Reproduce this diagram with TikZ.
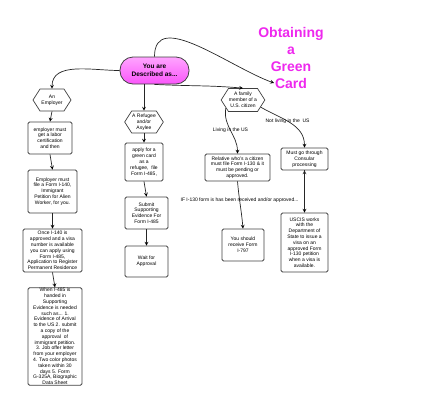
\documentclass[tikz,border=0pt]{standalone}
\usepackage{fontspec}
\setmainfont{Liberation Sans}
\usetikzlibrary{arrows,shapes.symbols}
\definecolor{pilltop}{RGB}{255,165,255}
\definecolor{pillbottom}{RGB}{250,85,250}
\definecolor{titlepink}{RGB}{238,40,238}

\begin{document}
\begin{tikzpicture}
  [x=1pt,y=-1pt,every node/.style={align=center,inner sep=0.5pt,font=\fontsize{5}{5.8}\selectfont}]

  \tikzstyle{box}  = [draw=black!75,line width=0.8pt,rounded corners=1.5pt]
  \tikzstyle{hexa} = [draw=black!75,line width=0.7pt,signal,signal to=west and east,
                      signal pointer angle=115,minimum width=38pt,minimum height=22pt]
  \tikzstyle{pill} = [draw=black!75,line width=0.8pt,top color=pilltop,bottom color=pillbottom,
                      rounded corners=13pt,minimum width=69pt,minimum height=27pt,
                      font=\fontsize{6.5}{8.5}\selectfont\bfseries]

  \useasboundingbox (0,0) rectangle (424,408);

  \node[pill] (pill) at (154.5,70.5) {You are\\Described as...};
  \node[text=titlepink,font=\fontsize{14}{16.7}\selectfont\bfseries] (title) at (291,58)
       {Obtaining\\a\\Green\\Card};
  \coordinate (cardpt) at (274,83);

  \node[hexa]                   (emphex) at (52,100)  {An\\Employer};
  \node[hexa]                   (refhex) at (144,122) {A Refugee\\and/or\\Asylee};
  \node[hexa,minimum width=42pt,minimum height=23pt]
                                (famhex) at (243,100) {A family\\member of a\\U.S. citizen};

  \node[box,minimum width=44pt,minimum height=32pt] (empa) at (50,138)
       {employer must\\get a labor\\certification\\and then};
  \node[box,minimum width=49pt,minimum height=43pt] (empb) at (52.5,191.5)
       {Employer must\\file a Form I-140,\\Immigrant\\Petition for Alien\\Worker, for you.};
  \node[box,minimum width=59pt,minimum height=43pt] (empc) at (52.5,250.5)
       {Once I-140 is\\approved and a visa\\number is available\\you can apply using\\Form I-485,\\Application to Register\\Permanent Residence};
  \node[box,minimum width=54pt,minimum height=97pt] (empd) at (55,336.5)
       {When I-485 is\\handed in\\Supporting\\Evidence is needed\\such as... 1.\\Evidence of Arrival\\to the US 2. submit\\a copy of the\\approval~ of\\immigrant petition.\\3. Job offer letter\\from your employer\\4. Two color photos\\taken within 30\\days 5. Form\\G-325A, Biographic\\Data Sheet};

  \node[box,minimum width=38pt,minimum height=38pt] (refa) at (144,162)
       {apply for a\\green card\\as a\\refugee,~ file\\Form I-485,};
  \node[box,minimum width=43pt,minimum height=32pt] (refb) at (146.5,213)
       {Submit\\Supporting\\Evidence For\\Form I-485};
  \node[box,minimum width=43pt,minimum height=31pt] (refc) at (146.5,261.5)
       {Wait for\\Approval};

  \node[box,minimum width=65pt,minimum height=27pt] (rel) at (237.5,167.5)
       {Relative who's a citizen\\must file Form I-130 \& it\\must be pending or\\approved.};
  \node[box,minimum width=47pt,minimum height=22pt] (cons) at (304.5,159)
       {Must go through\\Consular\\processing};
  \node[box,minimum width=42pt,minimum height=32pt] (recv) at (243,245)
       {You should\\receive Form\\I-797};
  \node[box,minimum width=47pt,minimum height=59pt] (uscis) at (304.5,242.5)
       {USCIS works\\with the\\Department of\\State to issue a\\visa on an\\approved Form\\I-130 petition\\when a visa is\\available.};

  \path[->, >=stealth, line width=0.7pt, draw=black!85]
        (pill.west)  edge [out=180,in=90]  (emphex.north)
        (pill.north) edge [out=90,in=160]  (cardpt)
        (pill.south) edge [out=-3,in=175]  (famhex.north)
        (pill.south -| refhex.north) edge (refhex.north)
        (emphex.south) edge (empa.north)
        (empa.south)   edge (empb.north)
        (empb.south)   edge (empc.north)
        (empc.south)   edge (empd.north)
        (refhex.south) edge (refa.north)
        (refa.south)   edge (refb.north)
        (refb.south)   edge (refc.north)
        (famhex.205) edge [out=-100,in=90] node[pos=0.5] {Living in the US} (rel.north)
        (famhex.-22) edge [out=-30,in=90]  node[pos=0.45] {Not living in the~ US} (cons.north)
        (rel.south)  edge [out=-85,in=95]
                     node[pos=0.38] {IF I-130 form is has been received and/or approved...} (recv.north)
        (cons.south) edge (uscis.north);
\end{tikzpicture}
\end{document}
